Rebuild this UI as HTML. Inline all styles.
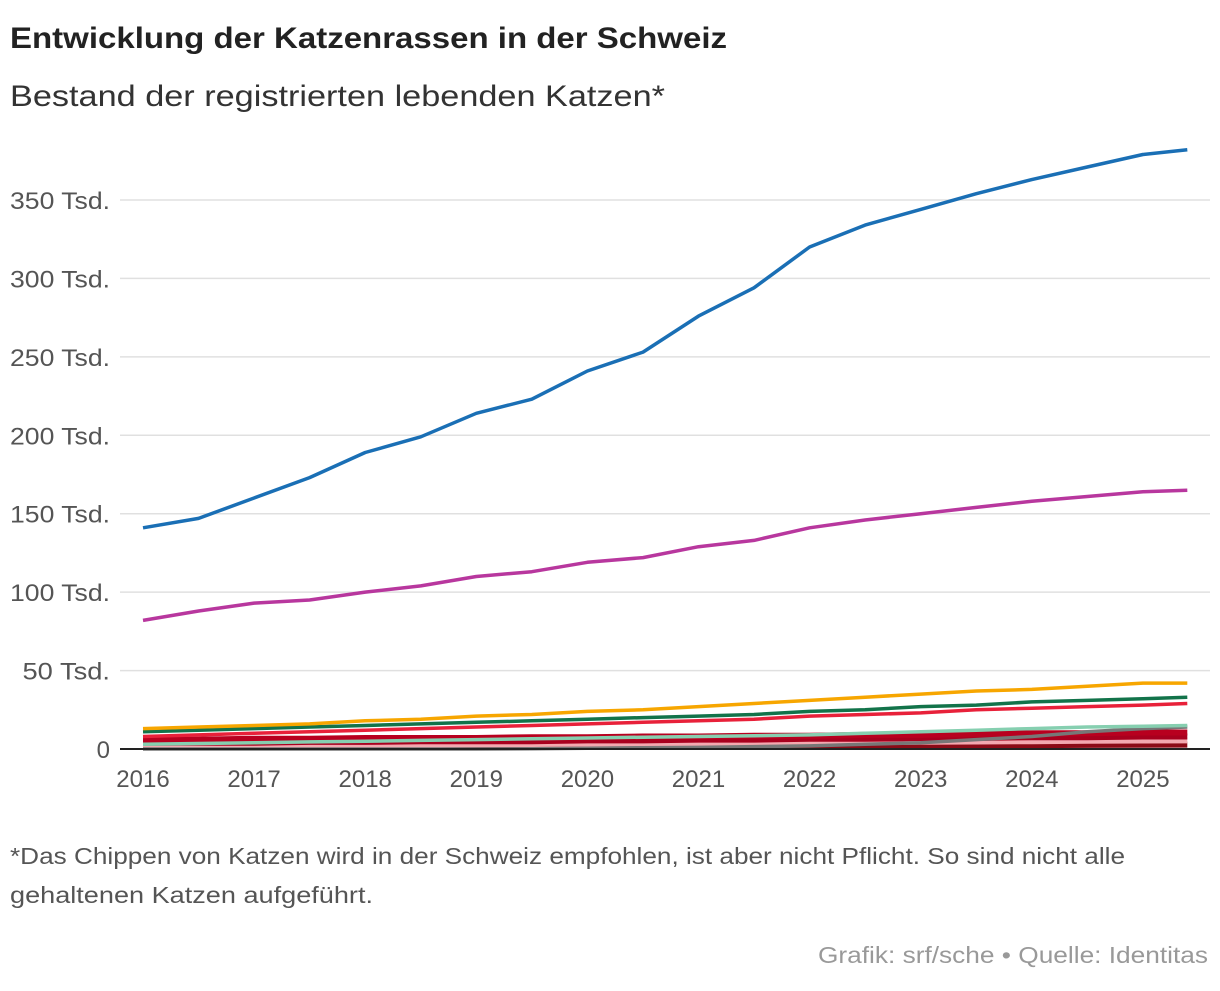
<!DOCTYPE html>
<html><head><meta charset="utf-8"><style>
body{margin:0;background:#fff;font-family:"Liberation Sans",sans-serif;}
#wrap{position:relative;width:1220px;height:986px;}
</style></head><body>
<div id="wrap">
<svg id="c" width="1220" height="986">
<text x="10" y="48" font-size="30" font-weight="bold" fill="#222" textLength="717" lengthAdjust="spacingAndGlyphs">Entwicklung der Katzenrassen in der Schweiz</text>
<text x="10" y="106" font-size="30" fill="#333" textLength="655" lengthAdjust="spacingAndGlyphs">Bestand der registrierten lebenden Katzen*</text>
<g id="grid"></g><g id="lines"></g>
<text x="10" y="864" font-size="23" fill="#555" textLength="1115" lengthAdjust="spacingAndGlyphs">*Das Chippen von Katzen wird in der Schweiz empfohlen, ist aber nicht Pflicht. So sind nicht alle</text>
<text x="10" y="903" font-size="23" fill="#555" textLength="363" lengthAdjust="spacingAndGlyphs">gehaltenen Katzen aufgeführt.</text>
<text x="1208" y="963" font-size="23" fill="#999" text-anchor="end" textLength="390" lengthAdjust="spacingAndGlyphs">Grafik: srf/sche • Quelle: Identitas</text>
</svg></div>
<script>
const times=[2016,2016.5,2017,2017.5,2018,2018.5,2019,2019.5,2020,2020.5,2021,2021.5,2022,2022.5,2023,2023.5,2024,2024.5,2025,2025.4];
const blue=[141,147,160,173,189,199,214,223,241,253,276,294,320,334,344,354,363,371,379,382];
const magenta=[82,88,93,95,100,104,110,113,119,122,129,133,141,146,150,154,158,161,164,165];
const orange=[13,14,15,16,18,19,21,22,24,25,27,29,31,33,35,37,38,40,42,42];
const green=[11,12,13,14,15,16,17,18,19,20,21,22,24,25,27,28,30,31,32,33];
const red=[8,9,10,11,12,13,14,15,16,17,18,19,21,22,23,25,26,27,28,29];
const teal=[3,3.5,4,4.5,5,5.5,6,6.5,7,7.5,8,8.5,9,10,11,12,13,14,14.5,15];
const gray=[0,0,0,0,0,0,0,0.2,0.5,0.8,1,1.5,2,3,4,6,8,11,13,14];
const darkred1=[6,6,6.5,6.5,7,7,7,7.5,7.5,8,8,8.5,8.5,9,9,9.5,10,10,10.5,10.5];
const darkred2=[4,4,4,4.5,4.5,5,5,5,5.5,5.5,6,6,6.5,6.5,7,7,7.5,7.5,8,8];
const pink=[2,2,2.2,2.4,2.6,2.8,3,3.2,3.4,3.6,3.8,4,4.2,4.4,4.6,4.8,5,5.2,5.4,5.5];
const maroon=[1,1,1.1,1.2,1.3,1.4,1.5,1.6,1.7,1.8,1.9,2,2.1,2.2,2.3,2.4,2.5,2.6,2.7,2.8];
const yTicks=[0,50,100,150,200,250,300,350];
const yLabels=["0","50 Tsd.","100 Tsd.","150 Tsd.","200 Tsd.","250 Tsd.","300 Tsd.","350 Tsd."];
const xTicks=[2016,2017,2018,2019,2020,2021,2022,2023,2024,2025];
const X=t=>143+(t-2016)*111.1, Y=v=>749-v*78.43/50;
const ns="http://www.w3.org/2000/svg", G=document.getElementById('grid'), L=document.getElementById('lines');
function mk(tag,at,p){const e=document.createElementNS(ns,tag);for(const k in at)e.setAttribute(k,at[k]);p.appendChild(e);return e;}
yTicks.forEach((v,i)=>{
 if(v>0){const l=mk('line',{x1:120,x2:1210,y1:Y(v),y2:Y(v),stroke:'#e0e0e0','stroke-width':1.5},G);
 
 }
 const t=mk('text',{x:110,y:Y(v)+9,'font-size':24,fill:'#555','text-anchor':'end'},G);t.textContent=yLabels[i];
 if(v>0){t.setAttribute('textLength',yLabels[i].length*12.5);t.setAttribute('lengthAdjust','spacingAndGlyphs');}
 
 
});
xTicks.forEach(y=>{const t=mk('text',{x:X(y),y:787,'font-size':24,fill:'#555','text-anchor':'middle'},G);t.textContent=y;
 
 });
const series=[[maroon,'#8b0a16'],[pink,'#f3a9b0'],[darkred2,'#a8001e'],[darkred1,'#b8001f'],[gray,'#777'],[teal,'#86cfb0'],[red,'#e8213a'],[green,'#12734a'],[orange,'#f7a600'],[magenta,'#b8379e'],[blue,'#1a6fb5']];
const names=['maroon','pink','darkred-2','darkred-1','gray','teal','red','green','orange','magenta','blue'];
series.forEach(([d,c],i)=>{
 const p=mk('path',{d:d.map((v,j)=>(j?'L':'M')+X(times[j]).toFixed(1)+','+Y(v).toFixed(1)).join(''),fill:'none',stroke:c,'stroke-width':i<4?6:3.5,'stroke-linejoin':'round'},L);
 
 
});
const ax=mk('line',{x1:120,x2:1210,y1:749,y2:749,stroke:'#222','stroke-width':2},L);


</script></body></html>
